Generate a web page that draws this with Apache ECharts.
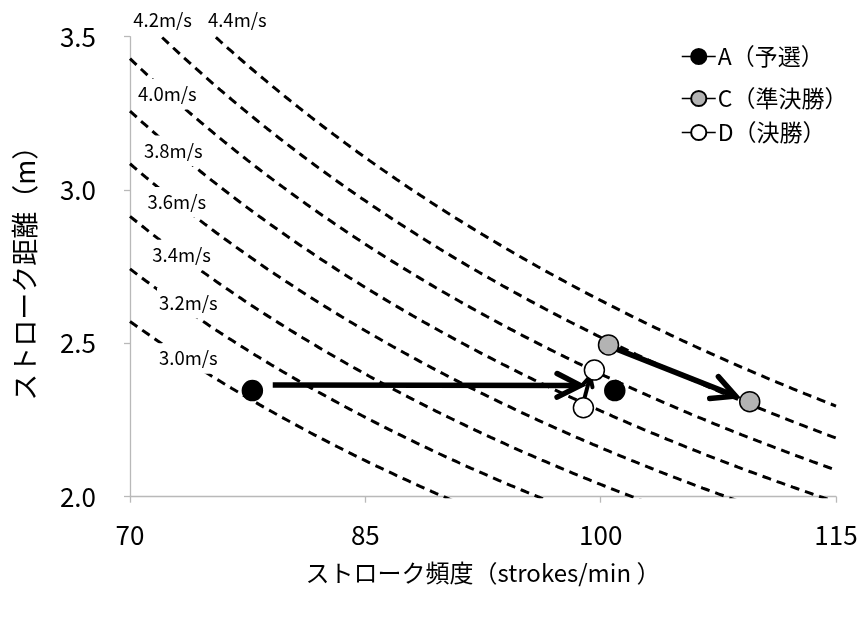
<!DOCTYPE html>
<html>
<head>
<meta charset="utf-8">
<script src="https://cdn.jsdelivr.net/npm/echarts@6/dist/echarts.min.js"></script>
<style>
  html, body { margin: 0; padding: 0; background: #fff; }
  #chart { width: 861px; height: 623px; }
</style>
</head>
<body>
<div id="chart"></div>
<script>
// Iso-velocity lines (m/s): stroke length = 60 * v / stroke rate
const velocities = [3.0, 3.2, 3.4, 3.6, 3.8, 4.0, 4.2, 4.4];
const velocityLabels = ['3.0m/s', '3.2m/s', '3.4m/s', '3.6m/s', '3.8m/s', '4.0m/s', '4.2m/s', '4.4m/s'];

// Measured points: [stroke rate (strokes/min), stroke length (m)]
const seriesA = [[77.8, 2.346], [100.9, 2.346]];
const seriesC = [[100.5, 2.495], [109.5, 2.31]];
const seriesD = [[98.9, 2.29], [99.6, 2.413]];
const seriesNames = ['A（予選）', 'C（準決勝）', 'D（決勝）'];

// Arrows: [x from, y from, x to, y to]
const arrowA = [79.1, 2.364, 98.7, 2.363];
const arrowC = [100.5, 2.492, 108.6, 2.328];
const arrowD = [98.95, 2.318, 99.33, 2.392];

const xMin = 70, xMax = 115, xStep = 15;
const yMin = 2.0, yMax = 3.5, yStep = 0.5;

// Where each velocity tag sits on the plot
const labelAnchors = [
  [73.72, 2.451], [73.72, 2.631], [73.29, 2.788], [72.98, 2.96],
  [72.76, 3.128], [72.38, 3.312], [72.08, 3.554], [76.84, 3.554]
];

const CJK = "'Noto Sans CJK JP', 'Noto Sans', sans-serif";

function isoLine(v) {
  const pts = [];
  for (let sr = xMin; sr <= xMax + 1e-9; sr += 0.25) {
    pts.push([sr, 60 * v / sr]);
  }
  return pts;
}

const curveSeries = velocities.map((v, i) => ({
  type: 'line',
  name: velocityLabels[i],
  data: isoLine(v),
  showSymbol: false,
  symbol: 'none',
  smooth: false,
  clip: true,
  silent: true,
  z: 1,
  lineStyle: { color: '#000', width: 3, type: [9, 6] }
}));

// Velocity tags: white boxes that break the dashed lines
const labelSeries = {
  type: 'custom',
  name: 'vlabels',
  clip: false,
  silent: true,
  z: 3,
  data: labelAnchors.map((p, i) => [p[0], p[1], i]),
  renderItem: (params, api) => {
    const c = api.coord([api.value(0), api.value(1)]);
    return {
      type: 'text',
      x: c[0],
      y: c[1],
      style: {
        text: velocityLabels[api.value(2)],
        fontFamily: CJK,
        fontSize: 18.5,
        fill: '#000',
        align: 'center',
        verticalAlign: 'middle',
        backgroundColor: '#fff',
        padding: [6, 2]
      }
    };
  }
};

function arrowRender(params, api) {
  const p1 = api.coord([api.value(0), api.value(1)]);
  const p2 = api.coord([api.value(2), api.value(3)]);
  const head = api.value(4);
  const ang = Math.atan2(p2[1] - p1[1], p2[0] - p1[0]);
  const spread = 27 * Math.PI / 180;
  const b1 = [p2[0] - head * Math.cos(ang - spread), p2[1] - head * Math.sin(ang - spread)];
  const b2 = [p2[0] - head * Math.cos(ang + spread), p2[1] - head * Math.sin(ang + spread)];
  const w = api.value(5);
  return {
    type: 'group',
    children: [
      { type: 'line', shape: { x1: p1[0], y1: p1[1], x2: p2[0] - 2 * Math.cos(ang), y2: p2[1] - 2 * Math.sin(ang) },
        style: { stroke: '#000', lineWidth: w, lineCap: 'butt' } },
      { type: 'polyline', shape: { points: [b1, p2, b2] },
        style: { stroke: '#000', fill: null, lineWidth: w, lineCap: 'round', lineJoin: 'miter' } }
    ]
  };
}

const arrowSeries = {
  type: 'custom',
  name: 'arrows',
  silent: true,
  z: 4,
  renderItem: arrowRender,
  data: [
    arrowA.concat([26, 5.5]),
    arrowC.concat([26, 5.5]),
    arrowD.concat([11, 4])
  ]
};

function pointSeries(name, data, color, z) {
  return {
    type: 'line',
    name: name,
    data: data,
    symbol: 'circle',
    symbolSize: 20,
    showSymbol: true,
    z: z,
    lineStyle: { width: 0, opacity: 0 },
    itemStyle: { color: color, borderColor: '#000', borderWidth: 1.5, opacity: 1 },
    emphasis: { disabled: true }
  };
}

// One legend block per row so each entry sits at its own height
const legendRowTops = [40, 82, 116];
const legends = seriesNames.map((n, i) => ({
  data: [n],
  orient: 'vertical',
  left: 676,
  top: legendRowTops[i],
  itemWidth: 34,
  itemHeight: 19,
  selectedMode: false,
  textStyle: { fontFamily: CJK, fontSize: 23, color: '#000', padding: [0, 0, 0, -3] },
  lineStyle: { color: '#000', width: 1.5, opacity: 1, type: 'solid' }
}));

const chart = echarts.init(document.getElementById('chart'), null, { renderer: 'canvas' });
chart.setOption({
  animation: false,
  backgroundColor: '#fff',
  grid: { left: 130, right: 25, top: 36.7, bottom: 126.3, containLabel: false },
  legend: legends,
  xAxis: {
    type: 'value',
    min: xMin, max: xMax, interval: xStep,
    name: 'ストローク頻度（strokes/min ）',
    nameLocation: 'middle',
    nameGap: 64,
    nameTextStyle: { fontFamily: CJK, fontSize: 24, color: '#000' },
    axisLine: { show: true, lineStyle: { color: '#b9b9b9', width: 1.3 } },
    axisTick: { show: true, length: 6, lineStyle: { color: '#b9b9b9', width: 1.3 } },
    axisLabel: { margin: 25, fontFamily: CJK, fontSize: 26, color: '#000' },
    splitLine: { show: false }
  },
  yAxis: {
    type: 'value',
    min: yMin, max: yMax, interval: yStep,
    name: 'ストローク距離（m）',
    nameLocation: 'middle',
    nameGap: 92,
    nameTextStyle: { fontFamily: CJK, fontSize: 27, color: '#000' },
    axisLine: { show: true, lineStyle: { color: '#b9b9b9', width: 1.3 } },
    axisTick: { show: true, length: 6, lineStyle: { color: '#b9b9b9', width: 1.3 } },
    axisLabel: { margin: 34, fontFamily: CJK, fontSize: 26, color: '#000', formatter: v => v.toFixed(1) },
    splitLine: { show: false }
  },
  series: [
    ...curveSeries,
    labelSeries,
    arrowSeries,
    pointSeries(seriesNames[0], seriesA, '#000', 6),
    pointSeries(seriesNames[1], seriesC, '#b3b3b3', 6),
    pointSeries(seriesNames[2], seriesD, '#fff', 6)
  ]
});
</script>
</body>
</html>
